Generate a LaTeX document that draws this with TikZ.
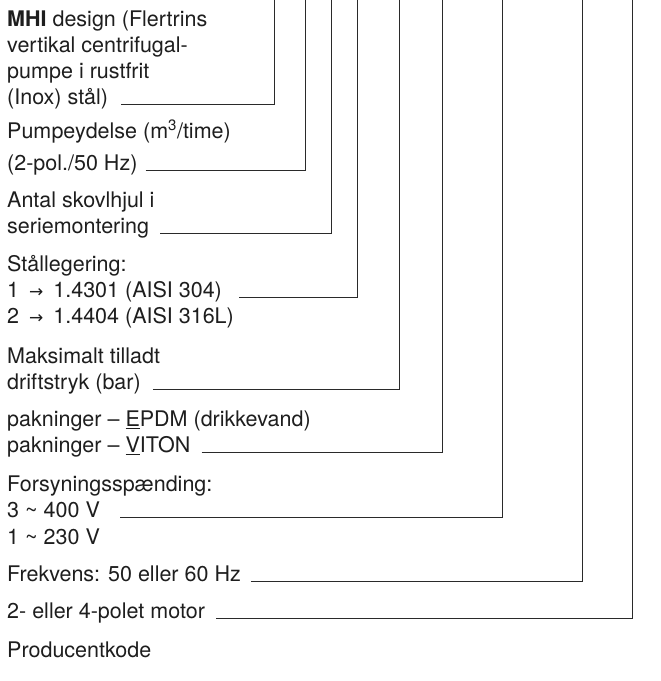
\documentclass[tikz,border=0pt]{standalone}
\usepackage{fontspec}
\setmainfont{TeX Gyre Heros}
\newfontfamily\arrowfont{DejaVu Sans}
\usepackage{xcolor}
\usepackage{tikz}
\definecolor{mhiink}{HTML}{1E1E1E}
\definecolor{mhiline}{HTML}{2A2A2A}
\tikzset{
  codetext/.style={anchor=base west, inner sep=0pt, text=mhiink, font=\fontsize{21.5}{26}\selectfont},
  leader/.style={draw=mhiline, line width=0.9pt},
}
\newcommand{\mhiarrow}{\hspace{10pt}{\arrowfont\fontsize{17}{20}\selectfont →}\hspace{10pt}}

\begin{document}
\begin{tikzpicture}[x=1pt,y=-1pt]
  \fill[white] (0,0) rectangle (661,681);
  \useasboundingbox (0,0) rectangle (661,681);

  % type code positions along the top edge
  \coordinate (codeA) at (274,0);
  \coordinate (codeB) at (305.3,0);
  \coordinate (codeC) at (331.7,0);
  \coordinate (codeD) at (357.3,0);
  \coordinate (codeE) at (399,0);
  \coordinate (codeF) at (442,0);
  \coordinate (codeG) at (502.7,0);
  \coordinate (codeH) at (582.7,0);
  \coordinate (codeI) at (632.3,0);

  \node[codetext] (mhiA) at (7,26.5) {\textbf{MHI} design (Flertrins};
  \node[codetext] (mhiB) at (7,52.5) {vertikal centrifugal-};
  \node[codetext] (mhiC) at (7,78.5) {pumpe i rustfrit};
  \node[codetext] (mhiD) at (7,104.5) {(Inox) stål)};

  \node[codetext] (flowA) at (7,138) {Pumpeydelse (m\textsuperscript{3}/time)};
  \node[codetext] (flowB) at (7,170) {(2-pol./50 Hz)};

  \node[codetext] (stagesA) at (7,207) {Antal skovlhjul i};
  \node[codetext] (stagesB) at (7,233) {seriemontering};

  \node[codetext] (steelA) at (7,271) {Stållegering:};
  \node[codetext] (steelB) at (7,297) {1\mhiarrow1.4301 (AISI 304)};
  \node[codetext] (steelC) at (7,323) {2\mhiarrow1.4404 (AISI 316L)};

  \node[codetext] (pressA) at (7,363) {Maksimalt tilladt};
  \node[codetext] (pressB) at (7,389) {driftstryk (bar)};

  \node[codetext] (sealA) at (7,426.5) {pakninger – \underline{E}PDM (drikkevand)};
  \node[codetext] (sealB) at (7,452.5) {pakninger – \underline{V}ITON};

  \node[codetext] (voltA) at (7,491) {Forsyningsspænding:};
  \node[codetext] (voltB) at (7,517.5) {3 \textasciitilde{} 400 V};
  \node[codetext] (voltC) at (7,544) {1 \textasciitilde{} 230 V};

  \node[codetext] (freq) at (7,581.5) {Frekvens: 50 eller 60 Hz};
  \node[codetext] (poles) at (7,618.5) {2- eller 4-polet motor};
  \node[codetext] (maker) at (7,657.5) {Producentkode};

  % leaders from each field up to its code position
  \draw[leader] ([xshift=13pt]mhiD.base east) -| (codeA);
  \draw[leader] ([xshift=8pt]flowB.base east) -| (codeB);
  \draw[leader] ([xshift=11pt]stagesB.base east) -| (codeC);
  \draw[leader] ([xshift=17pt]steelB.base east) -| (codeD);
  \draw[leader] ([xshift=12pt]pressB.base east) -| (codeE);
  \draw[leader] ([xshift=11pt]sealB.base east) -| (codeF);
  \draw[leader] ([xshift=20pt]voltB.base east) -| (codeG);
  \draw[leader] ([xshift=10pt]freq.base east) -| (codeH);
  \draw[leader] ([xshift=11pt]poles.base east) -| (codeI);
\end{tikzpicture}
\end{document}
